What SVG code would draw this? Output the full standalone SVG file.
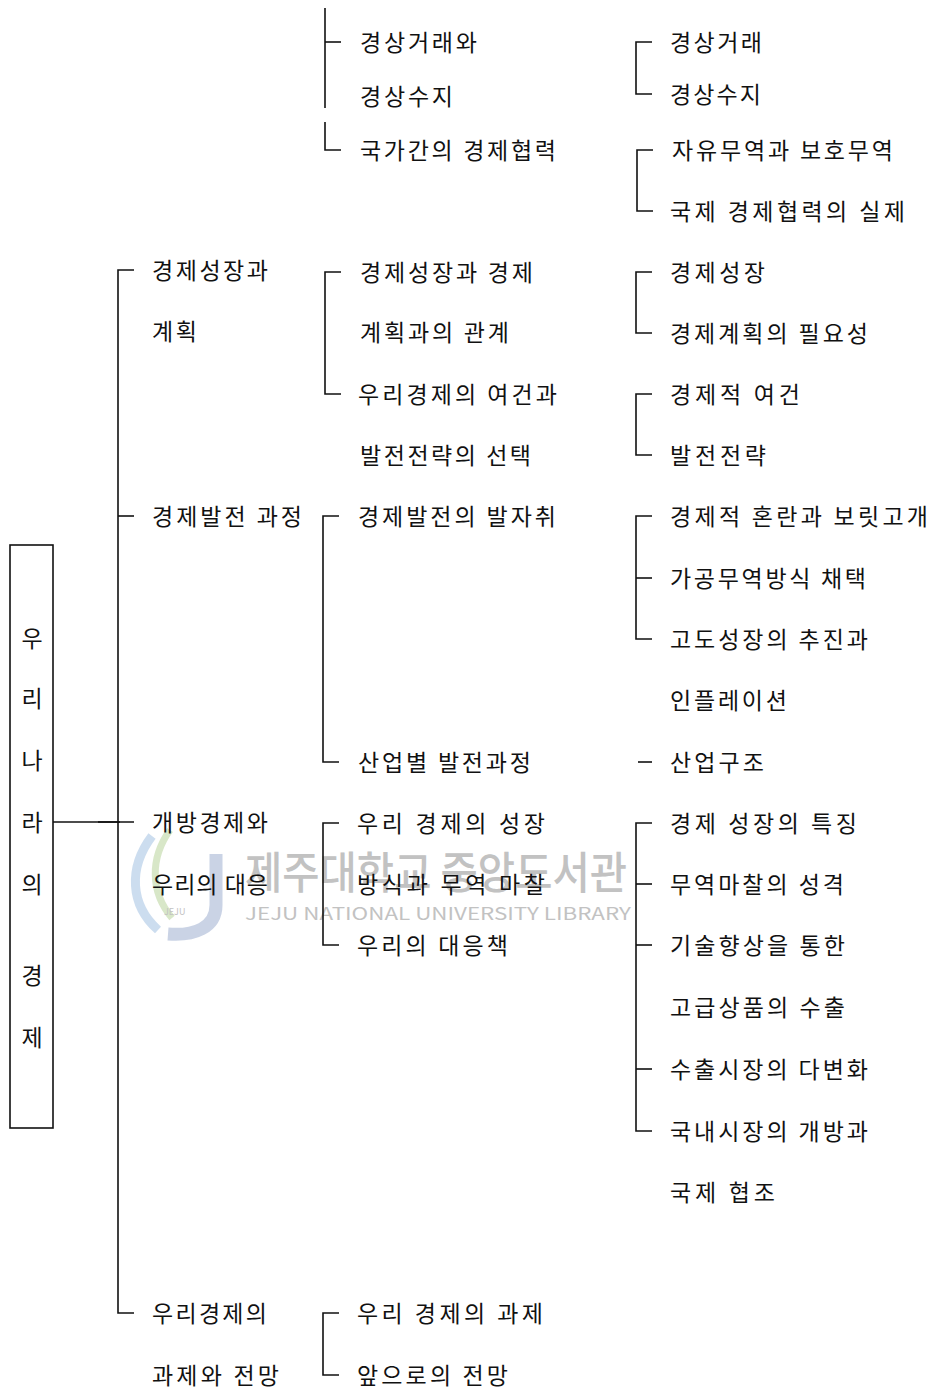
<svg xmlns="http://www.w3.org/2000/svg" width="933" height="1391" viewBox="0 0 933 1391">
<style>
.t { font-family: "Noto Sans CJK KR", "Noto Sans", sans-serif; font-size: 23px; fill: #111; }
.b { font-family: "Noto Sans CJK KR", "Noto Sans", sans-serif; font-size: 23px; fill: #111; text-anchor: middle; }
.c { stroke: #111; stroke-width: 1.6; fill: none; }
.wm { font-family: "Noto Sans CJK KR", "Noto Sans", sans-serif; fill: #c2c2c2; }
</style>
<rect width="933" height="1391" fill="#fff"/>

<g id="watermark">
  <path d="M152 836 C128 868 130 905 158 930" stroke="#b6cfe8" stroke-width="9" fill="none" opacity="0.7"/>
  <path d="M170 830 C150 858 150 892 172 918" stroke="#c8ddb0" stroke-width="7" fill="none" opacity="0.7"/>
  <path d="M216 854 L216 905 C216 928 194 936 168 934" stroke="#b3c1da" stroke-width="13" fill="none" opacity="0.7"/>
  <text class="wm" x="164" y="915" font-size="9">JEJU</text>
  <text class="wm" x="245" y="889" font-size="44" font-weight="500" textLength="382" lengthAdjust="spacingAndGlyphs">제주대학교 중앙도서관</text>
  <text class="wm" x="245" y="920" font-size="17" textLength="386" lengthAdjust="spacingAndGlyphs">JEJU NATIONAL UNIVERSITY LIBRARY</text>
</g>

<g id="connectors">
  <path class="c" d="M53 822 H134"/>
  <path class="c" d="M98 822 H120" stroke-width="3"/>
  <path class="c" d="M134 270 H118 V1313 H134"/>
  <path class="c" d="M118 516 H134"/>
  <path class="c" d="M325 8 V108"/>
  <path class="c" d="M325 42 H341"/>
  <path class="c" d="M325 122 V150 H341"/>
  <path class="c" d="M341 272 H325 V394 H341"/>
  <path class="c" d="M339 516 H323 V762 H339"/>
  <path class="c" d="M339 823 H323 V945 H339"/>
  <path class="c" d="M339 1313 H323 V1375 H339"/>
  <path class="c" d="M652 42 H636 V94 H652"/>
  <path class="c" d="M653 150 H637 V211 H653"/>
  <path class="c" d="M652 272 H636 V333 H652"/>
  <path class="c" d="M652 394 H636 V455 H652"/>
  <path class="c" d="M652 516 H636 V639 H652"/>
  <path class="c" d="M636 578 H652"/>
  <path class="c" d="M638 762 H652"/>
  <path class="c" d="M652 823 H636 V1131 H652"/>
  <path class="c" d="M636 884 H652"/>
  <path class="c" d="M636 945 H652"/>
  <path class="c" d="M636 1069 H652"/>
</g>

<g id="root">
  <rect x="10" y="545" width="43" height="583" fill="none" stroke="#111" stroke-width="1.6"/>
  <text class="b" x="32" y="647">우</text>
  <text class="b" x="32" y="707">리</text>
  <text class="b" x="32" y="769">나</text>
  <text class="b" x="32" y="831">라</text>
  <text class="b" x="32" y="893">의</text>
  <text class="b" x="32" y="984">경</text>
  <text class="b" x="32" y="1046">제</text>
</g>

<g id="n-growth-plan">
  <text class="t" x="152" y="279" textLength="116">경제성장과</text>
  <text class="t" x="152" y="340" textLength="45">계획</text>
</g>
<g id="n-dev-process">
  <text class="t" x="152" y="525" textLength="150">경제발전 과정</text>
</g>
<g id="n-open-economy">
  <text class="t" x="152" y="831" textLength="116">개방경제와</text>
  <text class="t" x="152" y="893" textLength="116">우리의 대응</text>
</g>
<g id="n-tasks">
  <text class="t" x="152" y="1322" textLength="115">우리경제의</text>
  <text class="t" x="152" y="1384" textLength="127">과제와 전망</text>
</g>

<g id="n-current-account">
  <text class="t" x="360" y="51" textLength="117">경상거래와</text>
  <text class="t" x="360" y="105" textLength="93">경상수지</text>
</g>
<g id="n-coop">
  <text class="t" x="360" y="159" textLength="196">국가간의 경제협력</text>
</g>
<g id="n-growth-relation">
  <text class="t" x="360" y="281" textLength="173">경제성장과 경제</text>
  <text class="t" x="360" y="341" textLength="149">계획과의 관계</text>
</g>
<g id="n-conditions">
  <text class="t" x="358" y="403" textLength="199">우리경제의 여건과</text>
  <text class="t" x="360" y="464" textLength="171">발전전략의 선택</text>
</g>
<g id="n-footsteps">
  <text class="t" x="358" y="525" textLength="198">경제발전의 발자취</text>
</g>
<g id="n-industry">
  <text class="t" x="358" y="771" textLength="173">산업별 발전과정</text>
</g>
<g id="n-growth-mode">
  <text class="t" x="357" y="832" textLength="188">우리 경제의 성장</text>
  <text class="t" x="357" y="893" textLength="188">방식과 무역 마찰</text>
</g>
<g id="n-response">
  <text class="t" x="357" y="954" textLength="151">우리의 대응책</text>
</g>
<g id="n-task">
  <text class="t" x="357" y="1322" textLength="186">우리 경제의 과제</text>
</g>
<g id="n-outlook">
  <text class="t" x="357" y="1384" textLength="151">앞으로의 전망</text>
</g>

<g id="n3-1"><text class="t" x="670" y="51" textLength="92">경상거래</text></g>
<g id="n3-2"><text class="t" x="670" y="103" textLength="91">경상수지</text></g>
<g id="n3-3"><text class="t" x="672" y="159" textLength="221">자유무역과 보호무역</text></g>
<g id="n3-4"><text class="t" x="670" y="220" textLength="235">국제 경제협력의 실제</text></g>
<g id="n3-5"><text class="t" x="670" y="281" textLength="95">경제성장</text></g>
<g id="n3-6"><text class="t" x="670" y="342" textLength="198">경제계획의 필요성</text></g>
<g id="n3-7"><text class="t" x="670" y="403" textLength="130">경제적 여건</text></g>
<g id="n3-8"><text class="t" x="670" y="464" textLength="96">발전전략</text></g>
<g id="n3-9"><text class="t" x="670" y="525" textLength="258">경제적 혼란과 보릿고개</text></g>
<g id="n3-10"><text class="t" x="670" y="587" textLength="196">가공무역방식 채택</text></g>
<g id="n3-11">
  <text class="t" x="670" y="648" textLength="198">고도성장의 추진과</text>
  <text class="t" x="670" y="709" textLength="117">인플레이션</text>
</g>
<g id="n3-12"><text class="t" x="670" y="771" textLength="94">산업구조</text></g>
<g id="n3-13"><text class="t" x="670" y="832" textLength="187">경제 성장의 특징</text></g>
<g id="n3-14"><text class="t" x="670" y="893" textLength="174">무역마찰의 성격</text></g>
<g id="n3-15">
  <text class="t" x="670" y="954" textLength="175">기술향상을 통한</text>
  <text class="t" x="670" y="1016" textLength="175">고급상품의 수출</text>
</g>
<g id="n3-16"><text class="t" x="670" y="1078" textLength="198">수출시장의 다변화</text></g>
<g id="n3-17">
  <text class="t" x="670" y="1140" textLength="198">국내시장의 개방과</text>
  <text class="t" x="670" y="1201" textLength="105">국제 협조</text>
</g>
</svg>
